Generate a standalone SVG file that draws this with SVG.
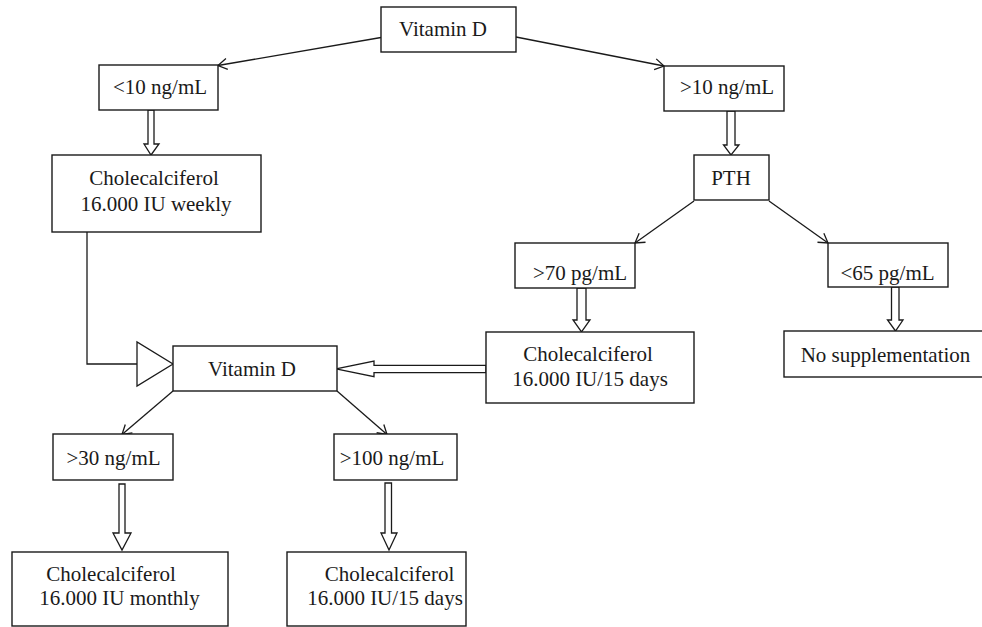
<svg xmlns="http://www.w3.org/2000/svg" width="982" height="627" viewBox="0 0 982 627">
<defs>
<marker id="open" markerUnits="userSpaceOnUse" markerWidth="20" markerHeight="20" viewBox="-10 -10 20 20" refX="0" refY="0" orient="auto" overflow="visible">
<path d="M-9,-5.5 L0,0 L-9,5.5" fill="none" stroke="#1a1a1a" stroke-width="1.3"/>
</marker>
<style>
.box{fill:#fff;stroke:#1a1a1a;stroke-width:1.4}
.t{font-family:"Liberation Serif","Times New Roman",serif;font-size:21px;fill:#1a1a1a;text-anchor:middle}
.ln{fill:none;stroke:#1a1a1a;stroke-width:1.3}
.hol{fill:#fff;stroke:#1a1a1a;stroke-width:1.3;stroke-linejoin:miter}
</style>
</defs>
<rect width="982" height="627" fill="#fff"/>

<g id="connectors">
<line class="ln" x1="381" y1="37.5" x2="218" y2="65.5" marker-end="url(#open)"/>
<line class="ln" x1="516" y1="37" x2="664" y2="66" marker-end="url(#open)"/>
<line class="ln" x1="694" y1="201" x2="635" y2="243" marker-end="url(#open)"/>
<line class="ln" x1="769" y1="201" x2="828" y2="243" marker-end="url(#open)"/>
<line class="ln" x1="173" y1="391" x2="122" y2="434.5" marker-end="url(#open)"/>
<line class="ln" x1="337" y1="391" x2="387" y2="434.5" marker-end="url(#open)"/>
<path class="hol" d="M148,110 V144 H144 L151,155 L159,144 H154 V110 Z"/>
<path class="hol" d="M727,111 V145 H723.5 L731,155 L739,145 H735 V111 Z"/>
<path class="hol" d="M577,288 V320 H573 L581.5,332 L590,320 H586 V288 Z"/>
<path class="hol" d="M891.5,287 V320 H887.5 L895.5,331 L903,320 H899 V287 Z"/>
<path class="hol" d="M119,484 V533 H113 L122,550 L131,533 H125 V484 Z"/>
<path class="hol" d="M385,483 V533 H381 L389,550 L397,533 H391.5 V483 Z"/>
<path class="hol" d="M486,365.3 H374 V361 L336,368.8 L374,376.7 V372.7 H486 Z"/>
<path class="ln" d="M87,232 V364 H137" stroke-width="2"/>
<path class="hol" d="M137,342 L137,386 L173,364 Z"/>
</g>

<g id="vitd-top"><rect class="box" x="381" y="7" width="135" height="45"/><text class="t" x="443" y="36">Vitamin D</text></g>
<g id="lt10"><rect class="box" x="99" y="65" width="119" height="45"/><text class="t" x="160" y="94">&lt;10 ng/mL</text></g>
<g id="gt10"><rect class="box" x="664" y="66" width="120" height="45"/><text class="t" x="727" y="94">&gt;10 ng/mL</text></g>
<g id="chole-weekly"><rect class="box" x="52" y="155" width="209" height="77"/><text class="t" x="154" y="185">Cholecalciferol</text><text class="t" x="156" y="211">16.000 IU weekly</text></g>
<g id="pth"><rect class="box" x="694" y="155" width="75" height="45"/><text class="t" x="731" y="185">PTH</text></g>
<g id="gt70"><rect class="box" x="515" y="243" width="120" height="45"/><text class="t" x="580" y="280">&gt;70 pg/mL</text></g>
<g id="lt65"><rect class="box" x="828" y="243" width="120" height="44"/><text class="t" x="887.5" y="280">&lt;65 pg/mL</text></g>
<g id="chole-15-right"><rect class="box" x="486" y="332" width="208" height="71"/><text class="t" x="588" y="361">Cholecalciferol</text><text class="t" x="590" y="386">16.000 IU/15 days</text></g>
<g id="nosupp"><rect class="box" x="784" y="331" width="200" height="46"/><text class="t" x="885.5" y="362">No supplementation</text></g>
<g id="vitd-bottom"><rect class="box" x="173" y="346" width="164" height="45"/><text class="t" x="252" y="376">Vitamin D</text></g>
<g id="gt30"><rect class="box" x="53" y="434" width="120" height="46"/><text class="t" x="113.5" y="465">&gt;30 ng/mL</text></g>
<g id="gt100"><rect class="box" x="334" y="434" width="123" height="46"/><text class="t" x="392" y="465">&gt;100 ng/mL</text></g>
<g id="chole-monthly"><rect class="box" x="12" y="552" width="216" height="74"/><text class="t" x="111" y="581">Cholecalciferol</text><text class="t" x="119.5" y="605">16.000 IU monthly</text></g>
<g id="chole-15-bottom"><rect class="box" x="287" y="552" width="179" height="74"/><text class="t" x="389.5" y="581">Cholecalciferol</text><text class="t" x="385" y="605">16.000 IU/15 days</text></g>
</svg>
